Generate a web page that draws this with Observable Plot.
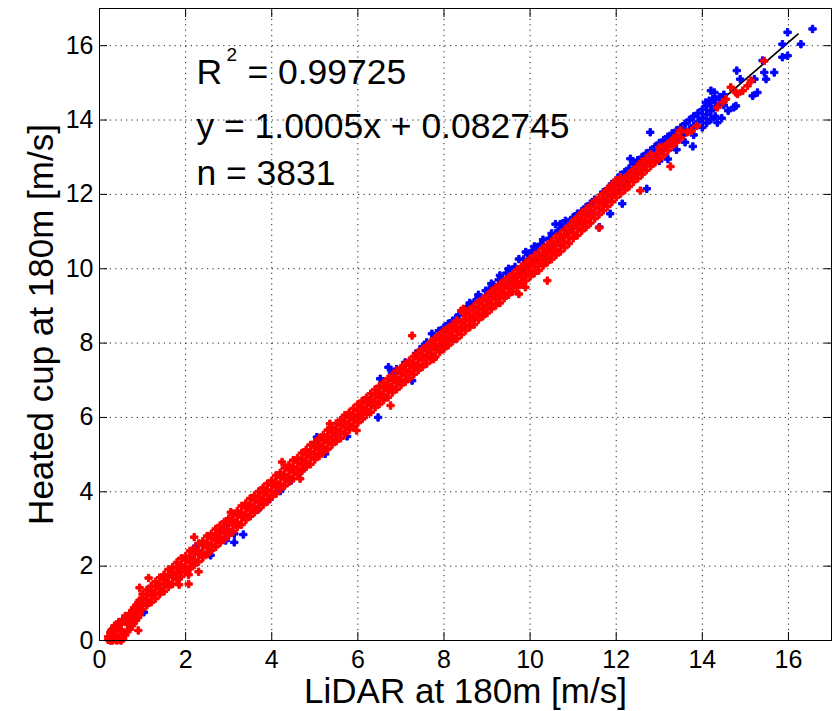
<!DOCTYPE html>
<html>
<head>
<meta charset="utf-8">
<script src="https://cdn.jsdelivr.net/npm/d3@7"></script>
<script src="https://cdn.jsdelivr.net/npm/@observablehq/plot@0.6"></script>
<style>
html, body { margin: 0; padding: 0; background: #fff; }
#chart svg { display: block; }
</style>
</head>
<body>
<div id="chart"></div>
<script>
// Each row: [LiDAR x, heated-cup y values read at that x...]
const redCols = [
  [0.20, 0.02, 0.10], [0.25, 0.05, 0.22, 0.00], [0.30, 0.00, 0.08, 0.30],
  [0.35, 0.03, 0.25, 0.40], [0.40, 0.00, 0.15, 0.33], [0.45, 0.02, 0.38, 0.50],
  [0.50, 0.00, 0.28, 0.45], [0.55, 0.05, 0.22, 0.55], [0.60, 0.15, 0.50, 0.66],
  [0.65, 0.25, 0.45, 0.62], [0.70, 0.30, 0.52, 0.72], [0.76, 0.40, 0.60, 0.80],
  [0.80, 0.47, 0.70, 0.88], [0.85, 0.55, 0.78, 0.95], [0.90, 0.62, 0.84, 1.02, 0.27],
  [0.93, 0.70, 0.90, 1.08, 1.42],
  [1.0, 0.84, 0.99, 1.12, 1.25], [1.1, 0.95, 1.09, 1.23, 1.36], [1.14, 1.68],
  [1.2, 1.03, 1.21, 1.33, 1.46], [1.3, 1.13, 1.28, 1.45, 1.58], [1.4, 1.25, 1.39, 1.52, 1.69],
  [1.5, 1.32, 1.50, 1.65, 1.77], [1.6, 1.44, 1.57, 1.74, 1.91], [1.7, 1.52, 1.71, 1.84, 1.97],
  [1.8, 1.65, 1.78, 1.96, 2.10], [1.85, 1.50], [1.9, 1.72, 1.91, 2.03, 2.21],
  [2.0, 1.84, 1.98, 2.16, 2.27], [2.07, 1.52, 1.77], [2.1, 1.93, 2.10, 2.24, 2.41],
  [2.2, 2.03, 2.18, 2.35, 2.48, 2.78], [2.3, 1.85, 2.12, 2.31, 2.42, 2.61],
  [2.4, 2.23, 2.37, 2.56, 2.67], [2.5, 2.32, 2.50, 2.62, 2.81], [2.6, 2.43, 2.58, 2.75, 2.87],
  [2.7, 2.52, 2.69, 2.84, 3.00], [2.8, 2.63, 2.78, 2.94, 3.09], [2.9, 2.72, 2.89, 3.03, 3.19],
  [3.0, 2.83, 2.98, 3.15, 3.28], [3.05, 3.45], [3.1, 2.93, 3.11, 3.24, 3.41], [3.2, 3.05, 3.18, 3.37, 3.48],
  [3.3, 3.12, 3.32, 3.44, 3.62], [3.4, 3.25, 3.39, 3.57, 3.69], [3.5, 3.34, 3.51, 3.65, 3.82],
  [3.6, 3.45, 3.60, 3.76, 3.90], [3.7, 3.54, 3.71, 3.86, 4.01], [3.8, 3.65, 3.80, 3.97, 4.11],
  [3.9, 3.74, 3.91, 4.05, 4.22], [4.0, 3.87, 4.01, 4.18, 4.30], [4.1, 3.95, 4.13, 4.26, 4.44],
  [4.2, 4.07, 4.21, 4.39, 4.51], [4.24, 4.80], [4.3, 4.16, 4.34, 4.46, 4.64], [4.4, 4.27, 4.41, 4.59, 4.72],
  [4.5, 4.36, 4.53, 4.67, 4.85], [4.6, 4.47, 4.62, 4.79, 4.91], [4.66, 4.35], [4.7, 4.56, 4.73, 4.88, 5.04],
  [4.8, 4.67, 4.82, 4.99, 5.13], [4.9, 4.74, 4.93, 5.08, 5.26], [5.0, 4.87, 5.02, 5.19, 5.33],
  [5.1, 4.96, 5.13, 5.28, 5.44], [5.2, 5.07, 5.22, 5.39, 5.53], [5.3, 5.15, 5.33, 5.48, 5.66],
  [5.35, 5.83], [5.4, 5.27, 5.42, 5.59, 5.73], [5.5, 5.36, 5.53, 5.68, 5.84], [5.6, 5.44, 5.62, 5.79, 5.93],
  [5.7, 5.56, 5.73, 5.88, 6.06], [5.8, 5.67, 5.82, 5.99, 6.13], [5.9, 5.76, 5.93, 6.08, 6.24],
  [5.97, 5.65], [6.0, 5.86, 6.02, 6.19, 6.35], [6.1, 5.96, 6.13, 6.28, 6.44], [6.2, 6.07, 6.22, 6.39, 6.53],
  [6.3, 6.14, 6.33, 6.48, 6.64], [6.4, 6.27, 6.42, 6.59, 6.75], [6.5, 6.36, 6.53, 6.68, 6.84],
  [6.6, 6.47, 6.62, 6.79, 6.93], [6.7, 6.54, 6.73, 6.88, 7.04], [6.76, 6.32],
  [6.8, 6.67, 6.82, 6.99, 7.13], [6.9, 6.76, 6.93, 7.08, 7.26], [7.0, 6.87, 7.02, 7.19, 7.33],
  [7.1, 6.96, 7.13, 7.28, 7.44], [7.2, 7.05, 7.22, 7.39, 7.53], [7.26, 8.20],
  [7.3, 7.16, 7.33, 7.48, 7.64], [7.4, 7.27, 7.42, 7.59, 7.75], [7.5, 7.36, 7.53, 7.68, 7.84],
  [7.6, 7.45, 7.62, 7.79, 7.93], [7.7, 7.56, 7.71, 7.88, 8.04], [7.76, 7.57],
  [7.8, 7.63, 7.82, 7.97, 8.13], [7.9, 7.76, 7.91, 8.08, 8.22], [8.0, 7.85, 8.02, 8.17, 8.33],
  [8.1, 7.94, 8.11, 8.27, 8.41], [8.2, 8.05, 8.20, 8.37, 8.50], [8.3, 8.12, 8.31, 8.45, 8.61],
  [8.4, 8.23, 8.40, 8.56, 8.87], [8.45, 8.92, 8.80], [8.5, 8.34, 8.49, 8.65, 8.81],
  [8.6, 8.43, 8.60, 8.74, 8.90], [8.7, 8.50, 8.69, 8.85, 8.99], [8.8, 8.63, 8.78, 8.94, 9.10],
  [8.9, 8.72, 8.89, 9.03, 9.19], [9.0, 8.81, 8.98, 9.14, 9.28], [9.1, 8.92, 9.07, 9.23, 9.39],
  [9.2, 9.01, 9.18, 9.32, 9.48], [9.3, 9.08, 9.27, 9.43, 9.57], [9.4, 9.21, 9.36, 9.52, 9.68],
  [9.5, 9.30, 9.47, 9.61, 9.77], [9.6, 9.39, 9.56, 9.72, 9.86], [9.7, 9.50, 9.65, 9.81, 9.97],
  [9.74, 9.32], [9.8, 9.59, 9.76, 9.90, 10.06], [9.89, 9.50], [9.9, 9.68, 9.85, 10.01, 10.15],
  [10.0, 9.79, 9.94, 10.10, 10.26], [10.1, 9.88, 10.05, 10.19, 10.35], [10.2, 9.95, 10.14, 10.30, 10.44],
  [10.3, 10.08, 10.23, 10.39, 10.55], [10.4, 9.68, 10.17, 10.34, 10.48, 10.64],
  [10.5, 10.26, 10.43, 10.59, 10.73], [10.6, 10.37, 10.52, 10.68, 10.84],
  [10.7, 10.46, 10.63, 10.77, 10.93], [10.8, 10.57, 10.72, 10.88, 11.04],
  [10.9, 10.68, 10.84, 10.99, 11.15], [11.0, 10.82, 10.97, 11.12, 11.28],
  [11.1, 10.90, 11.08, 11.22, 11.38], [11.2, 11.02, 11.18, 11.33, 11.50],
  [11.3, 11.12, 11.29, 11.44, 11.60], [11.4, 11.23, 11.40, 11.56, 11.70],
  [11.5, 11.35, 11.50, 11.66, 11.82], [11.6, 11.10, 11.46, 11.62, 11.77, 11.92],
  [11.7, 11.57, 11.72, 11.88, 12.02], [11.8, 11.68, 11.84, 11.98, 12.14],
  [11.9, 11.80, 11.94, 12.10, 12.25], [12.0, 11.92, 12.06, 12.22, 12.38],
  [12.1, 12.02, 12.18, 12.33, 12.46], [12.2, 12.12, 12.28, 12.44], [12.3, 12.22, 12.40, 12.55],
  [12.4, 12.34, 12.50, 12.66], [12.5, 12.43, 12.62, 12.75], [12.56, 12.10],
  [12.6, 12.54, 12.70, 12.88], [12.7, 12.65, 12.82, 12.96], [12.8, 12.76, 12.92, 13.08],
  [12.9, 12.86, 13.03], [13.0, 12.96, 13.15, 13.26], [13.1, 13.06, 13.28], [13.2, 13.18, 13.36],
  [13.26, 12.75], [13.3, 13.30, 13.45], [13.34, 13.49], [13.4, 13.40, 13.58], [13.49, 13.72],
  [13.5, 13.52, 13.71], [13.65, 13.67], [13.75, 13.71], [13.87, 13.84],
  [14.35, 14.34], [14.47, 14.47], [14.55, 14.56], [14.66, 14.88], [14.78, 14.74],
  [14.82, 14.70], [14.94, 14.79], [15.05, 14.92], [15.13, 15.06], [15.44, 15.59]
];

const blueCols = [
  [1.03, 0.76], [1.85, 1.77], [2.24, 2.53], [2.55, 2.37], [2.58, 2.29], [2.93, 2.69],
  [2.97, 3.18], [3.13, 2.87, 2.64], [3.34, 2.85], [3.67, 3.51], [3.95, 3.80], [4.20, 4.02],
  [4.45, 4.30], [4.70, 4.58], [5.05, 5.47], [5.24, 5.02], [5.50, 5.40], [5.75, 5.49],
  [6.00, 6.05], [6.30, 6.48], [6.47, 6.00], [6.52, 7.04], [6.71, 7.35], [6.79, 7.21],
  [6.90, 7.30], [7.10, 7.48], [7.26, 6.99], [7.35, 7.72], [7.50, 7.90], [7.60, 8.02],
  [7.72, 8.25], [7.88, 8.33], [8.00, 8.42, 7.95], [8.10, 8.52], [8.20, 8.60], [8.27, 8.66],
  [8.35, 8.76], [8.45, 8.82], [8.54, 8.98], [8.60, 8.95, 9.08], [8.70, 9.10], [8.80, 9.22, 9.30],
  [8.93, 8.78], [8.97, 9.41], [9.05, 9.44], [9.10, 9.60], [9.15, 9.56], [9.27, 9.70], [9.30, 9.82],
  [9.35, 9.72], [9.45, 9.88], [9.50, 10.00], [9.55, 9.96], [9.65, 10.05], [9.74, 10.26],
  [9.85, 10.25], [9.90, 10.45], [9.95, 10.40], [10.05, 10.48], [10.10, 10.60], [10.15, 10.58],
  [10.25, 10.66], [10.30, 10.78], [10.36, 10.21], [10.45, 10.82], [10.50, 10.95],
  [10.59, 11.20], [10.65, 11.02], [10.70, 11.20], [10.75, 11.12], [10.82, 11.29], [10.90, 11.26],
  [11.0, 11.38, 11.10], [11.1, 11.48], [11.2, 11.55, 11.25], [11.3, 11.66], [11.4, 11.75, 11.45],
  [11.5, 11.86], [11.61, 11.12], [11.7, 12.06, 11.80], [11.8, 12.15], [11.86, 11.48],
  [11.9, 12.28, 12.00], [12.0, 12.38, 12.12], [12.1, 12.52, 12.25], [12.14, 11.75],
  [12.2, 12.60, 12.40], [12.3, 12.70, 12.52], [12.33, 12.96], [12.4, 12.82, 12.60],
  [12.5, 12.92, 12.70], [12.6, 13.00, 12.78], [12.71, 12.15], [12.7, 13.10, 12.88],
  [12.79, 13.67], [12.8, 13.18, 12.98], [12.9, 13.28, 13.05], [13.0, 13.38, 13.12, 12.90],
  [13.1, 13.46, 13.22], [13.2, 13.55, 13.30, 12.95], [13.3, 13.64, 13.40], [13.4, 13.72, 13.48, 13.20],
  [13.5, 13.80, 13.58], [13.6, 13.90, 13.66, 13.40], [13.7, 14.00, 13.75], [13.78, 13.29],
  [13.8, 14.10, 13.85, 13.60], [13.9, 14.18, 13.95], [14.0, 14.28, 14.05, 13.80],
  [14.1, 14.38, 14.15, 13.92], [14.2, 14.48, 14.25, 14.02, 14.79], [14.24, 14.56],
  [14.3, 14.55, 14.35, 14.10], [14.4, 14.62, 14.42], [14.5, 14.68, 14.40],
  [14.08, 14.47], [14.16, 14.52], [14.28, 14.74], [14.35, 13.93], [14.45, 14.05],
  [14.60, 14.25], [14.73, 14.34], [14.78, 14.38], [14.80, 15.33], [14.88, 15.10],
  [15.17, 14.65], [15.21, 15.10], [15.28, 14.74], [15.40, 15.60], [15.44, 15.28],
  [15.48, 15.10], [15.67, 15.28], [15.86, 15.69, 16.04], [15.98, 15.73, 16.36],
  [16.29, 16.04], [16.56, 16.45]
];

const xTicks = [0, 2, 4, 6, 8, 10, 12, 14, 16];
const yTicks = [0, 2, 4, 6, 8, 10, 12, 14, 16];
const fitSlope = 1.0005;
const fitIntercept = 0.082745;
const fitX = [0.2, 16.22];
const xLabel = "LiDAR at 180m [m/s]";
const yLabel = "Heated cup at 180m [m/s]";
const r2Text = "= 0.99725";
const eqText = "y = 1.0005x + 0.082745";
const nText = "n = 3831";

const red = redCols.flatMap(([x, ...ys]) => ys.map(y => ({x, y})));
const blue = blueCols.flatMap(([x, ...ys]) => ys.map(y => ({x, y})));
const fit = fitX.map(x => ({x, y: fitSlope * x + fitIntercept}));

const font = "'Liberation Sans', Arial, Helvetica, sans-serif";
const annX = 2.25;
const chart = Plot.plot({
  width: 833,
  height: 711,
  marginLeft: 99,
  marginRight: 2,
  marginTop: 8,
  marginBottom: 71,
  style: {fontFamily: font, background: "#fff", color: "#000", overflow: "visible"},
  x: {domain: [0, 17], label: null},
  y: {domain: [0, 17], label: null},
  marks: [
    Plot.gridX(xTicks, {stroke: "#222", strokeOpacity: 1, strokeDasharray: "1.2,4.2"}),
    Plot.gridY(yTicks, {stroke: "#222", strokeOpacity: 1, strokeDasharray: "1.2,4.2"}),
    Plot.line(fit, {x: "x", y: "y", stroke: "#000", strokeWidth: 1.8}),
    Plot.dot(blue, {x: "x", y: "y", symbol: "cross", r: 3.1, fill: "#0000ff", stroke: "#0000ff", strokeWidth: 1}),
    Plot.dot(red, {x: "x", y: "y", symbol: "cross", r: 3.1, fill: "#ff0000", stroke: "#ff0000", strokeWidth: 1}),
    Plot.frame({stroke: "#000", strokeWidth: 1}),
    Plot.axisX(xTicks, {anchor: "bottom", tickSize: -8, tickPadding: 18, fontSize: 25, label: null}),
    Plot.axisX(xTicks, {anchor: "top", tickSize: -8, tickFormat: () => "", label: null}),
    Plot.axisY(yTicks, {anchor: "left", tickSize: -8, tickPadding: 14, fontSize: 25, label: null}),
    Plot.axisY(yTicks, {anchor: "right", tickSize: -8, tickFormat: () => "", label: null}),
    Plot.text([xLabel], {frameAnchor: "bottom", textAnchor: "middle", dy: 62, lineAnchor: "bottom", fontSize: 35, text: d => d, fill: "#000"}),
    Plot.text([yLabel], {frameAnchor: "left", textAnchor: "middle", dx: -47, rotate: -90, lineAnchor: "bottom", fontSize: 35, text: d => d, fill: "#000"}),
    Plot.text(["R"], {x: annX, y: 14.98, textAnchor: "start", lineAnchor: "bottom", fontSize: 35.5, text: d => d, fill: "#000"}),
    Plot.text(["2"], {x: annX, y: 14.98, dx: 30, dy: -23, textAnchor: "start", lineAnchor: "bottom", fontSize: 19, text: d => d, fill: "#000"}),
    Plot.text([r2Text], {x: annX, y: 14.98, dx: 51, textAnchor: "start", lineAnchor: "bottom", fontSize: 35.5, text: d => d, fill: "#000"}),
    Plot.text([eqText], {x: annX, y: 13.53, textAnchor: "start", lineAnchor: "bottom", fontSize: 35.5, text: d => d, fill: "#000"}),
    Plot.text([nText], {x: annX, y: 12.24, textAnchor: "start", lineAnchor: "bottom", fontSize: 35.5, text: d => d, fill: "#000"})
  ]
});
document.getElementById("chart").appendChild(chart);
</script>
</body>
</html>
